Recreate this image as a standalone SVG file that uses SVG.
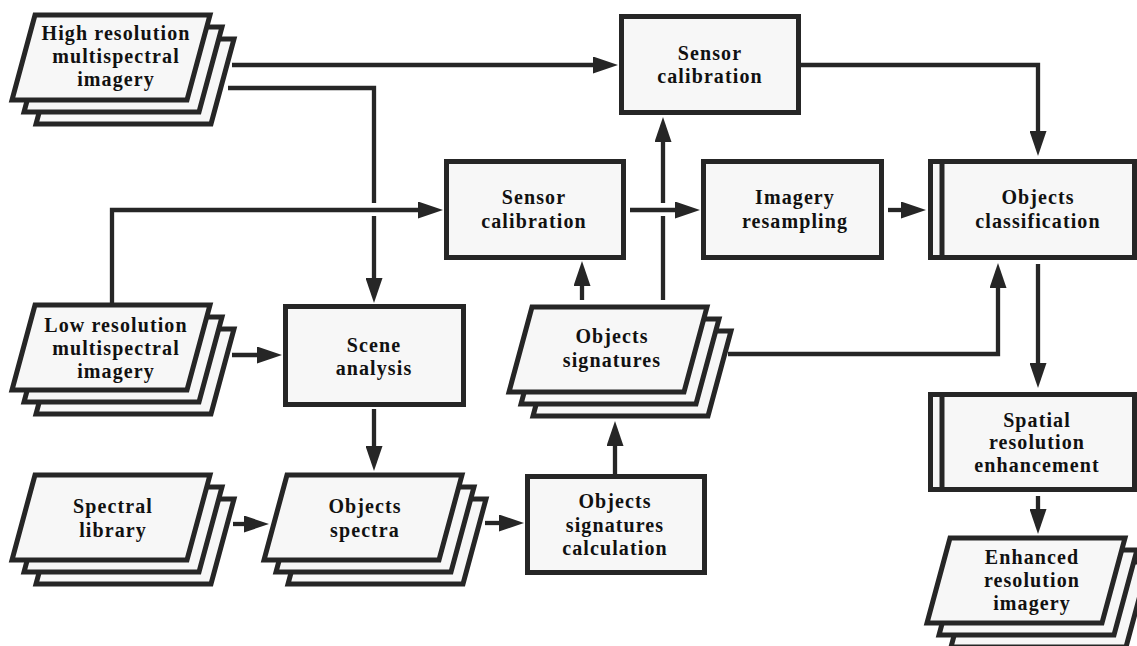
<svg xmlns="http://www.w3.org/2000/svg" width="1137" height="646" viewBox="0 0 1137 646">
<style>
.box{fill:#f7f7f7;stroke:#262626;stroke-width:5}
.sheet{fill:#f7f7f7;stroke:#262626;stroke-width:5;stroke-linejoin:miter}
.ln{fill:none;stroke:#262626;stroke-width:4.3;stroke-linejoin:miter}
.t{font-family:"Liberation Serif","Times New Roman",serif;font-weight:bold;font-size:20px;letter-spacing:1.1px;fill:#111111;text-anchor:middle}
</style>
<defs>
<path id="sh" d="M23,0 L198,0 L175,85 L0,85 Z"/>
<marker id="ah" markerUnits="userSpaceOnUse" markerWidth="25" markerHeight="17" refX="12" refY="8.5" orient="auto" viewBox="0 0 25 17">
<path d="M0,0 L25,8.5 L0,17 Z" fill="#262626"/>
</marker>
</defs>
<rect width="1137" height="646" fill="#ffffff"/>

<g id="connectors">
<path class="ln" d="M232,65 L605,65" marker-end="url(#ah)"/>
<path class="ln" d="M228,88 L374,88 L374,203"/>
<path class="ln" d="M374,216 L374,290" marker-end="url(#ah)"/>
<path class="ln" d="M112,303 L112,210 L430,210" marker-end="url(#ah)"/>
<path class="ln" d="M232,355 L269,355" marker-end="url(#ah)"/>
<path class="ln" d="M374,409 L374,458" marker-end="url(#ah)"/>
<path class="ln" d="M233,524 L256,524" marker-end="url(#ah)"/>
<path class="ln" d="M485,523 L511,523" marker-end="url(#ah)"/>
<path class="ln" d="M615,474 L615,434" marker-end="url(#ah)"/>
<path class="ln" d="M582,300 L582,274" marker-end="url(#ah)"/>
<path class="ln" d="M663,300 L663,216"/>
<path class="ln" d="M663,203 L663,130" marker-end="url(#ah)"/>
<path class="ln" d="M630,210 L687,210" marker-end="url(#ah)"/>
<path class="ln" d="M888,210 L913,210" marker-end="url(#ah)"/>
<path class="ln" d="M801,65 L1038,65 L1038,143" marker-end="url(#ah)"/>
<path class="ln" d="M728,354 L998,354 L998,276" marker-end="url(#ah)"/>
<path class="ln" d="M1038,264 L1038,375" marker-end="url(#ah)"/>
<path class="ln" d="M1038,496 L1038,521" marker-end="url(#ah)"/>
</g>

<g id="high-res">
<use href="#sh" class="sheet" transform="translate(36,39)"/>
<use href="#sh" class="sheet" transform="translate(24,27)"/>
<use href="#sh" class="sheet" transform="translate(12,15)"/>
<text class="t" x="116" y="40">High resolution</text>
<text class="t" x="116" y="63">multispectral</text>
<text class="t" x="116" y="86">imagery</text>
</g>

<g id="low-res">
<use href="#sh" class="sheet" transform="translate(36,329)"/>
<use href="#sh" class="sheet" transform="translate(24,317)"/>
<use href="#sh" class="sheet" transform="translate(12,305)"/>
<text class="t" x="116" y="332">Low resolution</text>
<text class="t" x="116" y="355">multispectral</text>
<text class="t" x="116" y="378">imagery</text>
</g>

<g id="spectral-library">
<use href="#sh" class="sheet" transform="translate(36,499)"/>
<use href="#sh" class="sheet" transform="translate(24,487)"/>
<use href="#sh" class="sheet" transform="translate(12,475)"/>
<text class="t" x="113" y="513">Spectral</text>
<text class="t" x="113" y="537">library</text>
</g>

<g id="objects-spectra">
<use href="#sh" class="sheet" transform="translate(288,499)"/>
<use href="#sh" class="sheet" transform="translate(276,487)"/>
<use href="#sh" class="sheet" transform="translate(264,475)"/>
<text class="t" x="365" y="513">Objects</text>
<text class="t" x="365" y="537">spectra</text>
</g>

<g id="objects-signatures">
<use href="#sh" class="sheet" transform="translate(533,331)"/>
<use href="#sh" class="sheet" transform="translate(521,319)"/>
<use href="#sh" class="sheet" transform="translate(509,307)"/>
<text class="t" x="612" y="343">Objects</text>
<text class="t" x="612" y="367">signatures</text>
</g>

<g id="enhanced-imagery">
<use href="#sh" class="sheet" transform="translate(951,562)"/>
<use href="#sh" class="sheet" transform="translate(939,550)"/>
<use href="#sh" class="sheet" transform="translate(927,538)"/>
<text class="t" x="1032" y="564">Enhanced</text>
<text class="t" x="1032" y="587">resolution</text>
<text class="t" x="1032" y="610">imagery</text>
</g>

<g id="sensor-calibration-top">
<rect class="box" x="621.5" y="16.5" width="177" height="96"/>
<text class="t" x="710" y="60">Sensor</text>
<text class="t" x="710" y="83">calibration</text>
</g>

<g id="sensor-calibration-mid">
<rect class="box" x="446.5" y="161.5" width="177" height="96"/>
<text class="t" x="534" y="204">Sensor</text>
<text class="t" x="534" y="228">calibration</text>
</g>

<g id="imagery-resampling">
<rect class="box" x="703.5" y="161.5" width="178" height="96"/>
<text class="t" x="795" y="204">Imagery</text>
<text class="t" x="795" y="228">resampling</text>
</g>

<g id="objects-classification">
<rect class="box" x="930.5" y="161.5" width="204" height="96"/>
<line class="ln" x1="942" y1="162" x2="942" y2="257" style="stroke-width:5"/>
<text class="t" x="1038" y="204">Objects</text>
<text class="t" x="1038" y="228">classification</text>
</g>

<g id="scene-analysis">
<rect class="box" x="285.5" y="306.5" width="178" height="98"/>
<text class="t" x="374" y="352">Scene</text>
<text class="t" x="374" y="375">analysis</text>
</g>

<g id="signatures-calculation">
<rect class="box" x="527.5" y="476.5" width="177" height="96"/>
<text class="t" x="615" y="508">Objects</text>
<text class="t" x="615" y="532">signatures</text>
<text class="t" x="615" y="555">calculation</text>
</g>

<g id="spatial-enhancement">
<rect class="box" x="930.5" y="394.5" width="204" height="95"/>
<line class="ln" x1="942" y1="395" x2="942" y2="489" style="stroke-width:5"/>
<text class="t" x="1037" y="427">Spatial</text>
<text class="t" x="1037" y="449">resolution</text>
<text class="t" x="1037" y="472">enhancement</text>
</g>
</svg>
